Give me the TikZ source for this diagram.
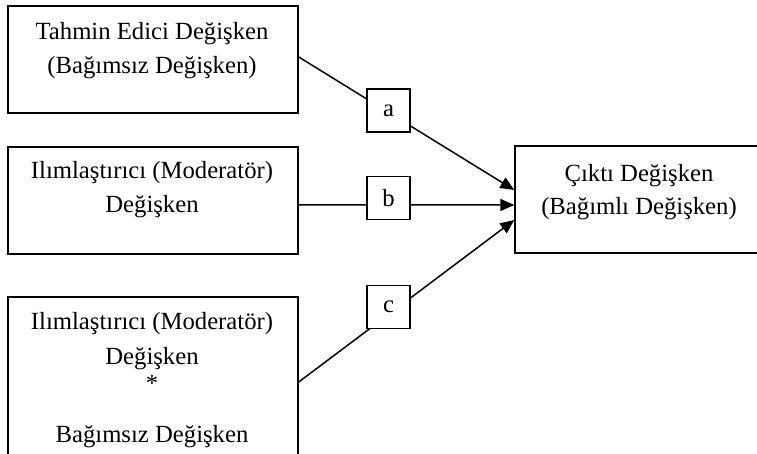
\documentclass[tikz,border=0pt]{standalone}
\usepackage{fontspec}
\setmainfont{Liberation Serif}
\usetikzlibrary{arrows.meta,backgrounds}
\tikzset{
  box/.style={draw=black, line width=1.5bp, fill=white, inner sep=0pt},
  lbl/.style={draw=black, line width=1.5bp, fill=white, inner sep=0pt,
    minimum width=43bp, minimum height=43bp, font=\fontsize{24.7bp}{28bp}\selectfont},
  txt/.style={inner sep=0pt, anchor=base, font=\fontsize{24.7bp}{28bp}\selectfont},
  arr/.style={line width=1.5bp, -{Triangle[length=14bp,width=12bp]}},
  ln/.style={line width=1.5bp}
}
\begin{document}
\begin{tikzpicture}[x=1bp,y=-1bp]
\useasboundingbox (0,0) rectangle (757,454);
% boxes
\node[box, minimum width=290bp, minimum height=107bp] (b1) at (153,59.5) {};
\node[box, minimum width=290bp, minimum height=107bp] (b2) at (153,200.5) {};
\node[box, minimum width=290bp, minimum height=170bp] (b3) at (153,382) {};
\node[box, minimum width=246bp, minimum height=107bp] (out) at (638,199.5) {};
% texts
\node[txt] (t1a) at (152,40) {Tahmin Edici Değişken};
\node[txt] (t1b) at (152,74) {(Bağımsız Değişken)};
\node[txt] (t2a) at (152,179) {Ilımlaştırıcı (Moderatör)};
\node[txt] (t2b) at (152,213) {Değişken};
\node[txt] (t3a) at (152,330) {Ilımlaştırıcı (Moderatör)};
\node[txt] (t3b) at (152,365) {Değişken};
\node[txt] (t3c) at (152,391) {*};
\node[txt] (t3d) at (152,442) {Bağımsız Değişken};
\node[txt] (toa) at (639,182) {Çıktı Değişken};
\node[txt] (tob) at (639,215) {(Bağımlı Değişken)};
% labels
\node[lbl] (la) at (388.5,110.5) {a};
\node[lbl] (lb) at (388.5,198) {b};
\node[lbl] (lc) at (388.5,307) {c};
% connectors
\begin{pgfonlayer}{background}
\fill[white] (0,0) rectangle (757,454);
\draw[arr] ([yshift=2.5bp]b1.east) -- ([yshift=9.5bp]out.west);
\draw[arr] ([yshift=-4.5bp]b2.east) -- ([yshift=-5.5bp]out.west);
\draw[arr] (b3.east) -- ([yshift=-20.5bp]out.west);
\end{pgfonlayer}
\end{tikzpicture}
\end{document}
